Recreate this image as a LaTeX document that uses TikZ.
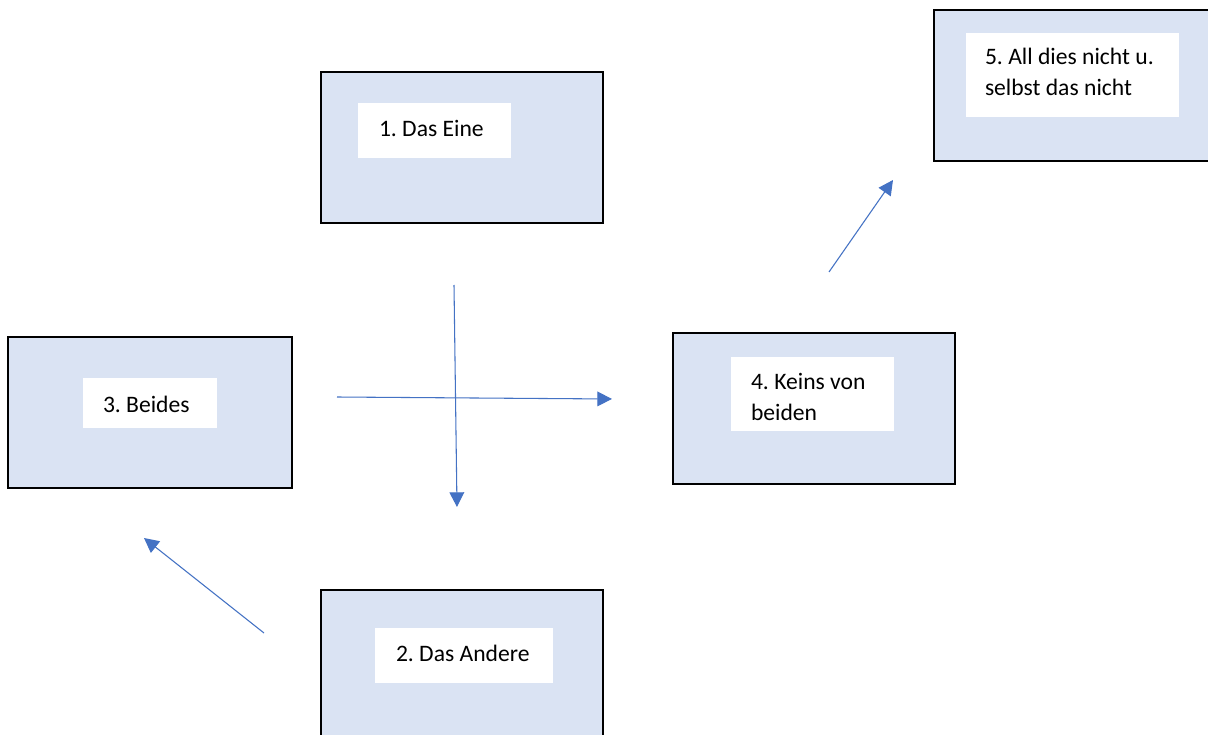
\documentclass[tikz,border=0pt]{standalone}
\usepackage{fontspec}
\setmainfont{Carlito}
\usetikzlibrary{arrows.meta}
\definecolor{boxfill}{HTML}{DAE3F3}
\definecolor{arrowblue}{HTML}{4472C4}
\frenchspacing
\tikzset{
  bigbox/.style={draw=black, fill=boxfill, line width=1.5pt, rectangle, inner sep=0pt, minimum height=113.25pt},
  whitelab/.style={fill=white, draw=none, rectangle, inner sep=0pt},
  labtext/.style={inner sep=0pt, outer sep=0pt, align=left, anchor=base west, font=\fontsize{17.7}{23.25}\selectfont\frenchspacing},
  conn/.style={draw=arrowblue, line width=0.8pt, -{Triangle[length=11pt,width=11pt]}}
}
\begin{document}
\begin{tikzpicture}[x=0.75pt,y=-0.75pt]
\useasboundingbox (0,0) rectangle (1208,735);
\clip (0,0) rectangle (1208,735);
\fill[white] (0,0) rectangle (1208,735);
% boxes
\node[bigbox, minimum width=211.5pt] (b1) at (462,147.5) {};
\node[bigbox, minimum width=211.5pt] (b2) at (462,665) {};
\node[bigbox, minimum width=213pt] (b3) at (150,412.5) {};
\node[bigbox, minimum width=211.5pt] (b4) at (814,408.5) {};
\node[bigbox, minimum width=211.5pt] (b5) at (1075,85.5) {};
% white labels
\node[whitelab, minimum width=114.75pt, minimum height=41.25pt] (w1) at (434.5,130.5) {};
\node[whitelab, minimum width=133.5pt, minimum height=41.25pt] (w2) at (464,655.5) {};
\node[whitelab, minimum width=100.5pt, minimum height=37.5pt] (w3) at (150,403) {};
\node[whitelab, minimum width=122.25pt, minimum height=55.5pt] (w4) at (812.5,394) {};
\node[whitelab, minimum width=159.75pt, minimum height=63pt] (w5) at (1072.5,75) {};
% texts (base anchor = baseline of last line)
\node[labtext] (t1) at (379,137) {1. Das Eine};
\node[labtext] (t2) at (396,661) {2. Das Andere};
\node[labtext] (t3) at (103,412) {3. Beides};
\node[labtext] (t4) at (751,420) {4. Keins von\\beiden};
\node[labtext] (t5) at (985,96) {5. All dies nicht u.\\selbst das nicht};
% arrow ends
\coordinate (v1) at (454,285);
\coordinate (v2) at (457,507);
\coordinate (h1) at (337,397);
\coordinate (h2) at (612,399);
\coordinate (u1) at (829,272);
\coordinate (u2) at (893,180);
\coordinate (d1) at (264,633);
\coordinate (d2) at (144,538);
\draw[conn] (v1) -- (v2);
\draw[conn] (h1) -- (h2);
\draw[conn] (u1) -- (u2);
\draw[conn] (d1) -- (d2);
\end{tikzpicture}
\end{document}
